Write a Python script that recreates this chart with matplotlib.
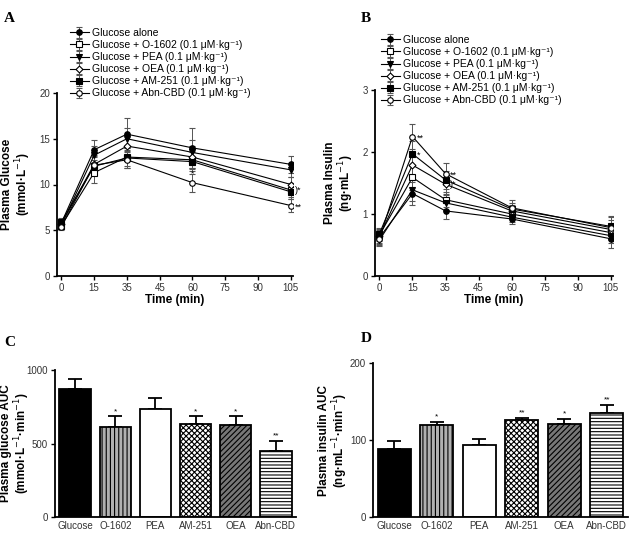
import matplotlib
matplotlib.use("Agg")
import matplotlib.pyplot as plt
import numpy as np

plt.rcParams['font.family'] = ['Liberation Sans', 'DejaVu Sans']
plt.rcParams['hatch.linewidth'] = 0.8

# time points (third point sits on the tick labelled "35")
tiempos = [0, 15, 30, 60, 105]
xticks_pos = [0, 15, 30, 45, 60, 75, 90, 105]
xticks_lab = ['0', '15', '35', '45', '60', '75', '90', '105']

series = ['Glucose alone', 'Glucose + O-1602 (0.1 \u03bcM\u00b7kg\u207b\u00b9)',
          'Glucose + PEA (0.1 \u03bcM\u00b7kg\u207b\u00b9)', 'Glucose + OEA (0.1 \u03bcM\u00b7kg\u207b\u00b9)',
          'Glucose + AM-251 (0.1 \u03bcM\u00b7kg\u207b\u00b9)', 'Glucose + Abn-CBD (0.1 \u03bcM\u00b7kg\u207b\u00b9)']
marcadores = ['o', 's', 'v', 'D', 's', 'o']
rellenos = ['k', 'w', 'k', 'w', 'k', 'w']

glucosa = [[5.8, 13.8, 15.5, 14.0, 12.2],
           [5.5, 11.3, 13.0, 12.7, 9.4],
           [5.6, 13.2, 15.0, 13.5, 11.6],
           [5.7, 12.2, 14.2, 13.0, 10.0],
           [5.9, 12.0, 12.9, 12.5, 9.2],
           [5.4, 12.1, 12.7, 10.2, 7.7]]
glucosa_err = [[0.4, 1.1, 1.8, 2.2, 0.9],
               [0.4, 1.1, 1.0, 1.0, 0.8],
               [0.4, 1.0, 1.2, 1.4, 0.8],
               [0.4, 1.0, 1.2, 1.2, 0.8],
               [0.4, 1.0, 1.1, 1.0, 0.8],
               [0.4, 1.0, 0.9, 1.0, 0.7]]

insulina = [[0.62, 1.33, 1.05, 0.92, 0.60],
            [0.66, 1.59, 1.23, 1.00, 0.70],
            [0.58, 1.39, 1.18, 0.95, 0.65],
            [0.64, 1.79, 1.48, 1.05, 0.75],
            [0.68, 1.97, 1.55, 1.08, 0.80],
            [0.60, 2.25, 1.65, 1.10, 0.78]]
insulina_err = [[0.10, 0.18, 0.13, 0.08, 0.15],
                [0.10, 0.20, 0.12, 0.08, 0.12],
                [0.10, 0.18, 0.12, 0.08, 0.12],
                [0.10, 0.20, 0.15, 0.10, 0.15],
                [0.10, 0.20, 0.15, 0.10, 0.15],
                [0.10, 0.20, 0.18, 0.12, 0.18]]

grupos = ['Glucose', 'O-1602', 'PEA', 'AM-251', 'OEA', 'Abn-CBD']
auc_glucosa = [868, 611, 734, 636, 625, 452]
auc_glucosa_err = [70, 73, 73, 48, 59, 66]
auc_insulina = [88, 120, 93, 126, 121, 135]
auc_insulina_err = [11, 3, 8, 3, 6, 10]
estrellas_c = ['', '*', '', '*', '*', '**']
estrellas_d = ['', '*', '', '**', '*', '**']

colores_barra = ['k', '#b0b0b0', 'w', 'w', '#777777', 'w']
hatches = [None, '||||', None, 'xxxxxx', '//////', '-----']

W, H = 629, 534
fig = plt.figure(figsize=(W / 100, H / 100), dpi=100)


def caja(l, r, t, b):
    return [l / W, 1 - b / H, (r - l) / W, (b - t) / H]


def etiqueta_y(texto, px, py):
    # y label placed in figure pixels
    fig.text(px / W, 1 - py / H, texto, rotation=90, ha='center', va='center',
             multialignment='center', fontsize=8.5, fontweight='bold', linespacing=1.1)


def estilo(ax):
    ax.spines['top'].set_visible(False)
    ax.spines['right'].set_visible(False)
    ax.spines['left'].set_linewidth(1.3)
    ax.spines['bottom'].set_linewidth(1.3)
    ax.tick_params(labelsize=7, width=1, length=3, colors='k', labelcolor='#333333', pad=2)


def curvas(ax, datos, errores, leyenda_x, leyenda_y):
    for i in range(len(series)):
        ax.errorbar(tiempos, datos[i], yerr=errores[i], color='k', lw=0.8,
                    marker=marcadores[i], ms=4 if marcadores[i] != 'D' else 3.5,
                    mfc=rellenos[i], mec='k', mew=0.8, ecolor='#555555',
                    elinewidth=0.7, capsize=2, label=series[i])
    ax.set_xlim(-2, 106)
    ax.set_xticks(xticks_pos)
    ax.set_xticklabels(xticks_lab)
    ax.set_xlabel('Time (min)', fontsize=8.5, fontweight='bold', labelpad=1)
    estilo(ax)
    ax.legend(loc='upper left', bbox_to_anchor=(leyenda_x / W, 1 - leyenda_y / H),
              bbox_transform=fig.transFigure, frameon=False, fontsize=7.5,
              handlelength=1.8, handletextpad=0.3, labelspacing=0.2, borderpad=0,
              borderaxespad=0)


# A
axA = fig.add_axes(caja(57, 293, 93, 276))
curvas(axA, glucosa, glucosa_err, 70, 28)
axA.set_ylim(0, 20)
axA.set_yticks([0, 5, 10, 15, 20])
etiqueta_y('Plasma Glucose\n(mmol\u00b7L$^{-1}$)', 17, 184)
axA.text(107, 9.3, ')*', fontsize=6.5, va='center')
axA.text(107, 7.5, '**', fontsize=6.5, va='center')
axA.text(60, 11.0, '*', fontsize=6, ha='center')

# B
axB = fig.add_axes(caja(375, 613, 90, 276))
curvas(axB, insulina, insulina_err, 381, 35)
axB.set_ylim(0, 3)
axB.set_yticks([0, 1, 2, 3])
etiqueta_y('Plasma Insulin\n(ng\u00b7mL$^{-1}$)', 340, 183)
axB.text(17, 2.22, '**', fontsize=6.5, va='center')
axB.text(17, 1.95, '*', fontsize=6.5, va='center')
axB.text(32, 1.62, '**', fontsize=6.5, va='center')
axB.text(32, 1.48, ')*', fontsize=6.5, va='center')


def barras(ax, vals, errs, estrellas, tope):
    x = np.arange(len(grupos))
    for i in range(len(grupos)):
        ax.bar(x[i], vals[i], width=0.78, color=colores_barra[i], edgecolor='k',
               lw=1.3, hatch=hatches[i], zorder=2)
        ax.errorbar(x[i], vals[i], yerr=[[0], [errs[i]]], color='k', lw=1.3,
                    capsize=5, capthick=1.3, zorder=1)
        if estrellas[i]:
            ax.text(x[i], vals[i] + errs[i] + tope * 0.01, estrellas[i], ha='center',
                    va='bottom', fontsize=6)
    ax.set_xticks(x)
    ax.set_xticklabels(grupos)
    ax.set_xlim(-0.5, 5.5)
    ax.set_ylim(0, tope)
    estilo(ax)
    ax.tick_params(axis='x', length=0, pad=3)


# C
axC = fig.add_axes(caja(55, 296, 370, 517))
barras(axC, auc_glucosa, auc_glucosa_err, estrellas_c, 1000)
axC.set_yticks([0, 500, 1000])
etiqueta_y('Plasma glucose AUC\n(mmol\u00b7L$^{-1}$\u00b7min$^{-1}$)', 16, 443)

# D
axD = fig.add_axes(caja(373, 628, 363, 517))
barras(axD, auc_insulina, auc_insulina_err, estrellas_d, 200)
axD.set_yticks([0, 100, 200])
etiqueta_y('Plasma insulin AUC\n(ng\u00b7mL$^{-1}$\u00b7min$^{-1}$)', 334, 440)

for letra, px, py in [('A', 4, 18), ('B', 361, 18), ('C', 4, 343), ('D', 361, 338)]:
    fig.text(px / W, 1 - py / H, letra, fontsize=11, fontweight='bold',
             family=['Liberation Serif', 'DejaVu Serif'], va='center')

fig.savefig('out.png', dpi=100)
